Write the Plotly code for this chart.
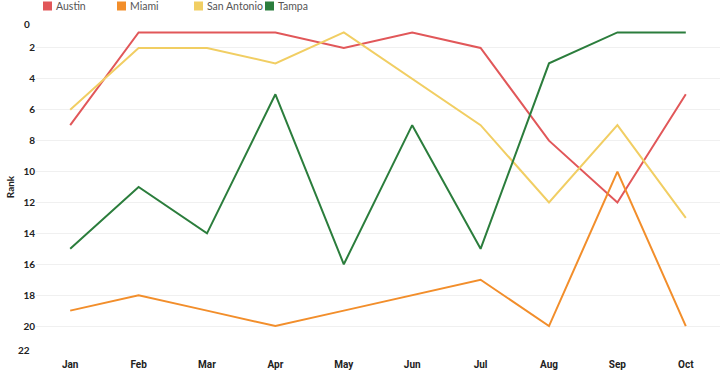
import plotly.graph_objects as go

months = ["Jan", "Feb", "Mar", "Apr", "May", "Jun", "Jul", "Aug", "Sep", "Oct"]
austin = [7, 1, 1, 1, 2, 1, 2, 8, 12, 5]
miami = [19, 18, 19, 20, 19, 18, 17, 20, 10, 20]
san_antonio = [6, 2, 2, 3, 1, 4, 7, 12, 7, 13]
tampa = [15, 11, 14, 5, 16, 7, 15, 3, 1, 1]
y_ticks = list(range(0, 23, 2))

series = [
    ("Austin", austin, "#e15759"),
    ("Miami", miami, "#f28e2b"),
    ("San Antonio", san_antonio, "#f1ce63"),
    ("Tampa", tampa, "#2b7d3c"),
]
legend_px = [43, 117, 194, 265]  # left edge of each legend swatch, in pixels

W, H = 720, 372
L, R, T, B = 36, 0, 17, 15
FONT = "Lato, 'Open Sans', sans-serif"
fig = go.Figure()
for name, vals, col in series:
    fig.add_trace(go.Scatter(x=months, y=vals, mode="lines", name=name,
                             line=dict(color=col, width=2), showlegend=False))

pw = W - L - R
ph = H - T - B
def px_to_paper_x(px):
    return (px - L) / pw
def px_to_paper_y(py):
    return (H - B - py) / ph

for (name, _, col), lx in zip(series, legend_px):
    fig.add_shape(type="rect", xref="paper", yref="paper",
                  x0=px_to_paper_x(lx), x1=px_to_paper_x(lx + 9),
                  y0=px_to_paper_y(10.5), y1=px_to_paper_y(1.5),
                  fillcolor=col, line=dict(width=0))
    fig.add_annotation(xref="paper", yref="paper", x=px_to_paper_x(lx + 11),
                       y=px_to_paper_y(6), xanchor="left", yanchor="middle",
                       text=name, showarrow=False,
                       font=dict(family=FONT, size=10.5, color="#555"))

fig.update_layout(
    width=W, height=H,
    margin=dict(l=L, r=R, t=T, b=B, autoexpand=False),
    paper_bgcolor="white", plot_bgcolor="white",
    font=dict(family=FONT, size=10, color="#333"),
    showlegend=False,
)
fig.update_xaxes(range=[-0.5, 9.5], showgrid=False, zeroline=False,
                 showline=False, ticks="", ticklen=0, automargin=False,
                 tickfont=dict(family="'Liberation Sans Narrow', 'Roboto', sans-serif",
                               size=10, color="#222", weight="bold"))
fig.update_yaxes(range=[22, 0], tickvals=y_ticks, automargin=False,
                 ticktext=["" if v in (0, 22) else str(v) for v in y_ticks],
                 showgrid=True, gridcolor="#f0f0f0", gridwidth=1,
                 zeroline=False, showline=False, ticks="",
                 tickfont=dict(size=10, color="#222", weight="bold"),
                 title=dict(text="<b>Rank</b>", standoff=6,
                            font=dict(size=10, color="#222")))
fig.add_annotation(x=0, xref="paper", xanchor="right", xshift=-4, y=0, yref="y",
                   yshift=-7, text="<b>0</b>", showarrow=False, font=dict(size=10, color="#222"))
fig.add_annotation(x=0, xref="paper", xanchor="right", xshift=-4, y=22, yref="y",
                   yshift=7, text="<b>22</b>", showarrow=False, font=dict(size=10, color="#222"))

fig.write_html("out.html", config={"displayModeBar": False},
               post_script="document.body.style.margin='0';document.body.style.overflow='hidden';")
